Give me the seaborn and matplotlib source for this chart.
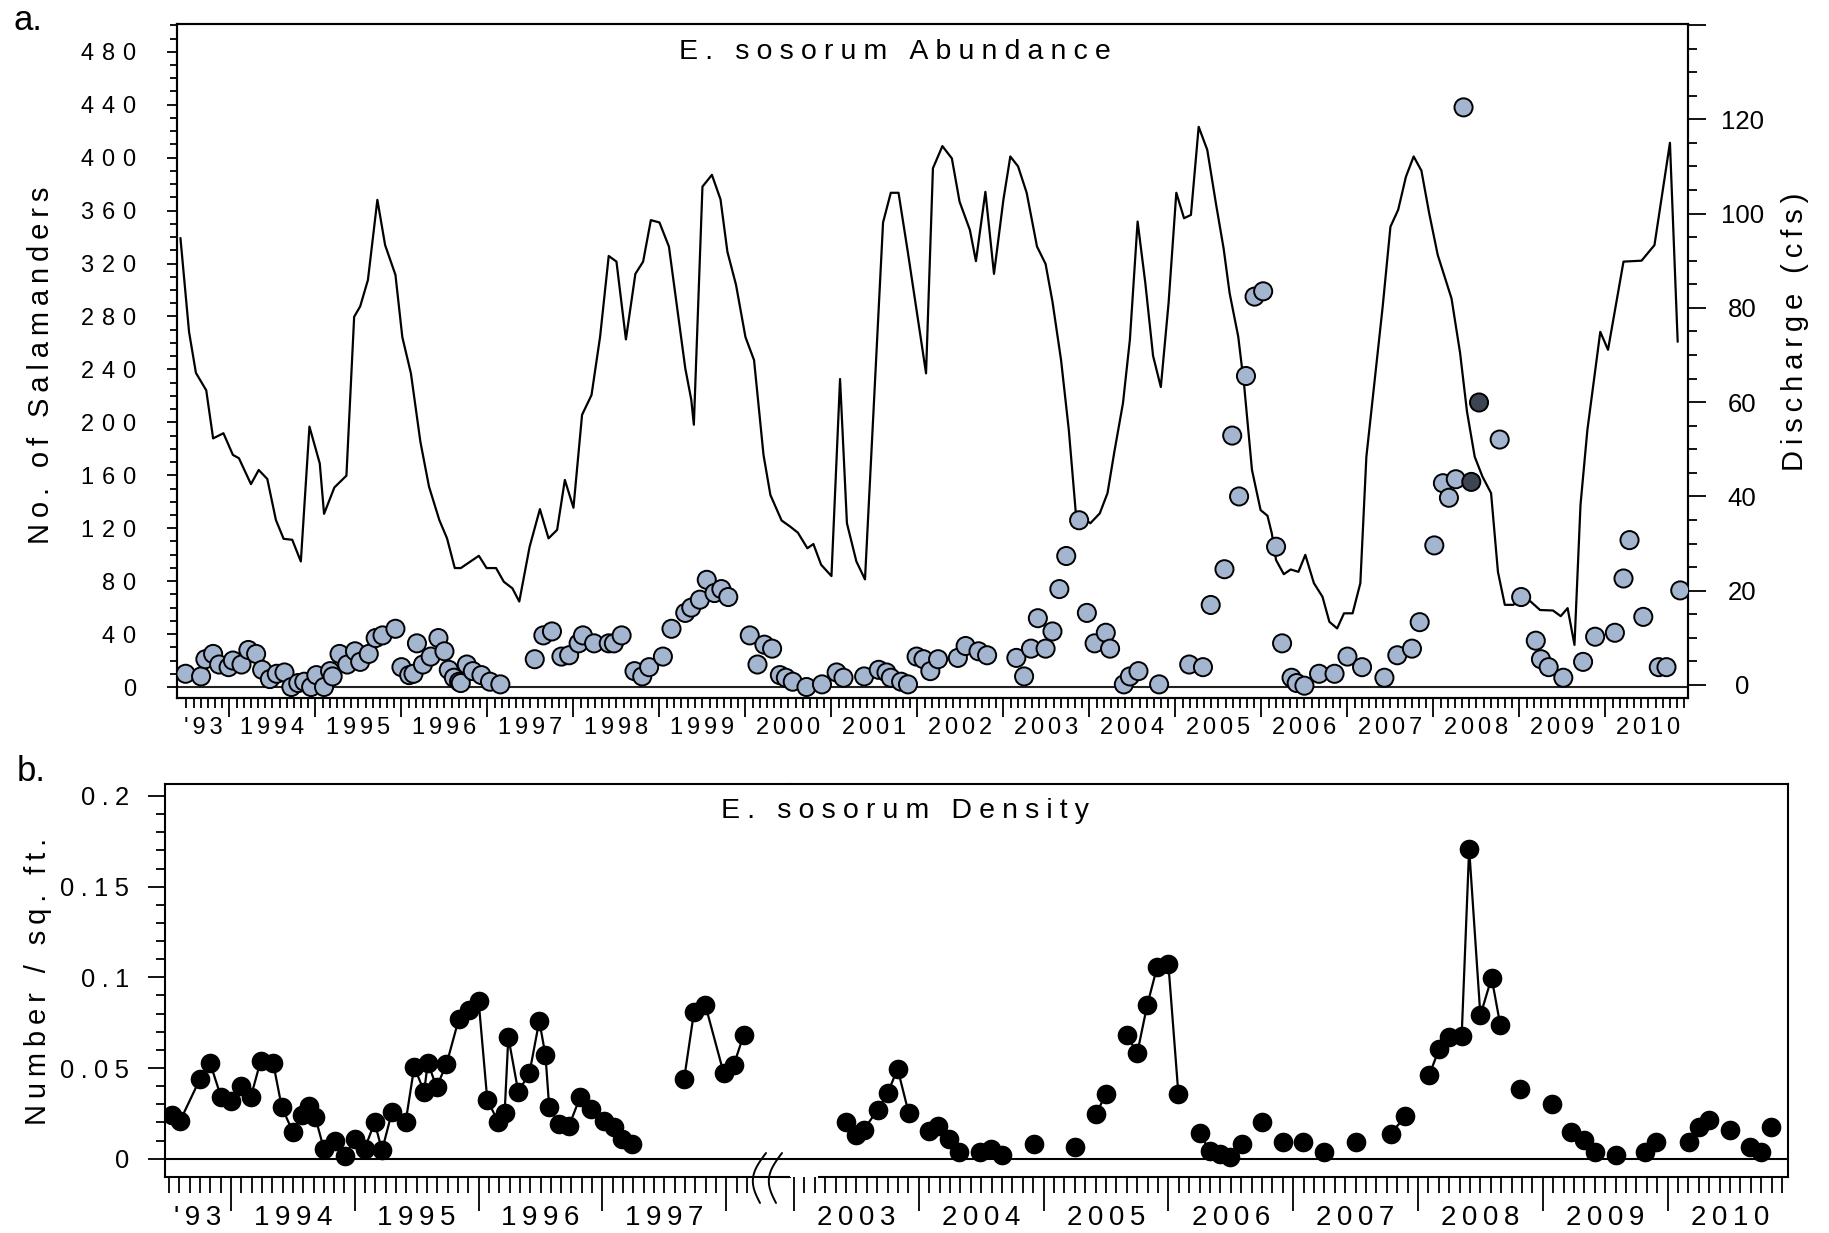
import numpy as np
import pandas as pd
import matplotlib
matplotlib.use("Agg")
import matplotlib.pyplot as plt
from matplotlib.lines import Line2D
from matplotlib.ticker import NullLocator
import seaborn as sns

# ---------------- data ----------------
# Panel a: salamander counts (circles)
abund_year = (
    [1993.49, 1993.67, 1993.72, 1993.81, 1993.88, 1993.99,
     1994.04, 1994.14, 1994.22, 1994.31, 1994.38, 1994.47, 1994.55, 1994.64, 1994.72, 1994.80, 1994.87, 1994.95]
    + [1995.01, 1995.10, 1995.17, 1995.20, 1995.28, 1995.37, 1995.46, 1995.52, 1995.62, 1995.70, 1995.78, 1995.93]
    + [1996.00, 1996.09, 1996.14, 1996.18, 1996.25, 1996.34, 1996.43, 1996.50, 1996.55, 1996.61, 1996.67, 1996.69,
       1996.76, 1996.83, 1996.93]
    + [1997.03, 1997.15, 1997.55, 1997.65, 1997.75, 1997.86, 1997.95]
    + [1998.06, 1998.11, 1998.24, 1998.41, 1998.47, 1998.56, 1998.71, 1998.80, 1998.88]
    + [1999.04, 1999.14, 1999.30, 1999.37, 1999.47, 1999.55, 1999.64, 1999.72, 1999.80]
    + [2000.05, 2000.14, 2000.22, 2000.31, 2000.40, 2000.47, 2000.55, 2000.71, 2000.89]
    + [2001.06, 2001.14, 2001.38, 2001.55, 2001.64, 2001.69, 2001.81, 2001.89, 2001.99]
    + [2002.07, 2002.15, 2002.24, 2002.47, 2002.56, 2002.71, 2002.81]
    + [2003.15, 2003.24, 2003.32, 2003.40, 2003.49, 2003.57, 2003.65, 2003.73, 2003.88, 2003.97]
    + [2004.06, 2004.19, 2004.24, 2004.40, 2004.47, 2004.57, 2004.81]
    + [2005.16, 2005.32, 2005.41, 2005.57, 2005.66, 2005.74, 2005.82, 2005.92]
    + [2006.02, 2006.17, 2006.24, 2006.35, 2006.41, 2006.50, 2006.67, 2006.85]
    + [2007.00, 2007.17, 2007.43, 2007.58, 2007.75, 2007.84]
    + [2008.01, 2008.11, 2008.18, 2008.26, 2008.35, 2008.44, 2008.53, 2008.77]
    + [2009.02, 2009.19, 2009.25, 2009.34, 2009.51, 2009.74, 2009.88]
    + [2010.11, 2010.21, 2010.28, 2010.44, 2010.62, 2010.71, 2010.87]
)
abund_count = (
    [10, 8, 21, 25, 17, 15, 20, 17, 28, 25, 13, 6, 10, 11, 0, 3, 4, 0]
    + [9, 0, 12, 8, 25, 17, 27, 19, 25, 37, 39, 44]
    + [15, 9, 10, 33, 17, 23, 37, 27, 13, 7, 4, 3, 17, 12, 9]
    + [4, 2, 21, 39, 42, 23, 24]
    + [33, 39, 33, 33, 33, 39, 12, 8, 15]
    + [23, 44, 56, 60, 66, 81, 71, 74, 68]
    + [39, 17, 32, 29, 9, 7, 4, 0, 2]
    + [11, 7, 8, 13, 11, 7, 4, 2, 23]
    + [21, 12, 21, 22, 31, 27, 24]
    + [22, 8, 29, 52, 29, 42, 74, 99, 126, 56]
    + [33, 41, 29, 2, 8, 12, 2]
    + [17, 15, 62, 89, 190, 144, 235, 295]
    + [299, 106, 33, 7, 3, 1, 10, 10]
    + [23, 15, 7, 24, 29, 49]
    + [107, 154, 143, 157, 438, 155, 215, 187]
    + [68, 35, 21, 15, 7, 19, 38]
    + [41, 82, 111, 53, 15, 15, 73]
)
dark_years = [2008.44, 2008.53]   # the two dark circles

# Panel a: discharge (line, right axis)
discharge_year = [
    1993.43, 1993.53, 1993.61, 1993.73, 1993.81, 1993.93, 1994.04, 1994.11, 1994.25, 1994.34, 1994.44, 1994.54,
    1994.63, 1994.73, 1994.83, 1994.93, 1995.05, 1995.10, 1995.22, 1995.36, 1995.45, 1995.52, 1995.61, 1995.72,
    1995.81, 1995.93, 1996.01, 1996.11, 1996.22, 1996.32, 1996.44, 1996.53, 1996.62, 1996.69, 1996.90, 1996.99,
    1997.10, 1997.19, 1997.29, 1997.37, 1997.49, 1997.61, 1997.71, 1997.81, 1997.90, 1998.00, 1998.10, 1998.21,
    1998.31, 1998.41, 1998.50, 1998.61, 1998.72, 1998.81, 1998.90, 1999.00, 1999.11, 1999.30, 1999.37, 1999.40,
    1999.50, 1999.61, 1999.71, 1999.79, 1999.89, 2000.00, 2000.10, 2000.21, 2000.29, 2000.42, 2000.52, 2000.61,
    2000.72, 2000.79, 2000.88, 2001.00, 2001.10, 2001.18, 2001.29, 2001.39, 2001.60, 2001.69, 2001.78, 2001.89,
    2002.01, 2002.10, 2002.18, 2002.29, 2002.40, 2002.49, 2002.61, 2002.68, 2002.79, 2002.89, 2003.00, 2003.08,
    2003.17, 2003.27, 2003.39, 2003.49, 2003.57, 2003.67, 2003.76, 2003.84, 2004.01, 2004.12, 2004.21, 2004.29,
    2004.39, 2004.47, 2004.56, 2004.65, 2004.74, 2004.83, 2004.92, 2005.01, 2005.10, 2005.18, 2005.27, 2005.37,
    2005.47, 2005.56, 2005.63, 2005.73, 2005.80, 2005.89, 2005.99, 2006.07, 2006.12, 2006.17, 2006.26, 2006.34,
    2006.43, 2006.51, 2006.61, 2006.71, 2006.79, 2006.88, 2006.96, 2007.06, 2007.15, 2007.22, 2007.41, 2007.50,
    2007.59, 2007.68, 2007.77, 2007.86, 2007.95, 2008.05, 2008.13, 2008.21, 2008.31, 2008.39, 2008.48, 2008.57,
    2008.67, 2008.75, 2008.83, 2008.93, 2009.02, 2009.13, 2009.24, 2009.39, 2009.48, 2009.56, 2009.64, 2009.71,
    2009.79, 2009.94, 2010.03, 2010.21, 2010.42, 2010.57, 2010.75, 2010.84,
]
discharge_cfs = [
    94.8, 74.9, 66.2, 62.5, 52.3, 53.4, 48.8, 48.1, 42.6, 45.6, 43.7, 35.0,
    31.0, 30.8, 26.2, 54.8, 47.0, 36.3, 41.9, 44.4, 78.1, 80.3, 85.9, 102.9,
    93.3, 87.0, 73.8, 66.1, 51.6, 42.1, 35.0, 31.1, 24.8, 24.8, 27.4, 24.8,
    24.8, 21.9, 20.5, 17.7, 29.3, 37.3, 31.1, 32.9, 43.5, 37.6, 57.3, 61.5,
    73.9, 91.0, 89.8, 73.3, 87.2, 89.8, 98.6, 98.1, 93.0, 67.2, 60.5, 55.2,
    105.7, 108.2, 103.0, 91.9, 84.9, 73.8, 68.9, 48.8, 40.3, 34.9, 33.6, 32.3,
    29.0, 29.9, 25.5, 23.1, 64.9, 34.3, 26.2, 22.4, 98.1, 104.4, 104.4, 91.6,
    77.1, 66.1, 109.6, 114.3, 111.7, 102.5, 96.5, 89.9, 104.6, 87.2, 103.0, 112.1,
    110.0, 104.4, 93.0, 89.3, 81.3, 68.9, 54.1, 36.8, 34.3, 36.4, 40.7, 49.5,
    59.8, 73.2, 98.3, 85.2, 69.8, 63.2, 81.0, 104.4, 99.0, 99.7, 118.4, 113.5,
    102.2, 92.6, 83.1, 73.9, 63.3, 45.6, 37.1, 35.9, 32.2, 26.5, 23.5, 24.5,
    24.0, 27.6, 21.6, 18.7, 13.4, 12.0, 15.2, 15.2, 21.6, 48.4, 80.3, 97.2,
    100.8, 107.8, 112.1, 109.1, 100.1, 91.2, 86.6, 82.0, 70.4, 58.0, 48.4, 44.2,
    40.7, 24.0, 17.0, 17.0, 18.7, 17.7, 15.9, 15.8, 14.6, 16.3, 8.5, 38.2,
    54.1, 74.9, 71.1, 89.8, 90.0, 93.3, 115.0, 72.8,
]

# Panel b: density (run = consecutive samples joined by a line)
density_year = [
    1993.52, 1993.59, 1993.75, 1993.83, 1993.92, 1994.00, 1994.08, 1994.16, 1994.24, 1994.34, 1994.41, 1994.50,
    1994.57, 1994.63, 1994.68, 1994.75, 1994.84, 1994.92, 1995.00, 1995.08, 1995.16, 1995.22, 1995.30, 1995.41,
    1995.48, 1995.56, 1995.59, 1995.66, 1995.74, 1995.84, 1995.92, 1996.00, 1996.07, 1996.16, 1996.21, 1996.24,
    1996.32, 1996.41, 1996.49, 1996.54, 1996.57, 1996.65, 1996.73, 1996.82, 1996.91, 1997.01, 1997.09, 1997.16,
    1997.24,
    1997.66, 1997.74, 1997.83, 1997.98, 1998.06, 1998.14,
    2003.42, 2003.50, 2003.56, 2003.67, 2003.75, 2003.83, 2003.92,
    2004.08, 2004.15, 2004.24, 2004.32,
    2004.49, 2004.58, 2004.67,
    2004.92, 2005.25,
    2005.42, 2005.50,
    2005.67, 2005.75, 2005.83, 2005.91, 2006.00, 2006.08,
    2006.25, 2006.33, 2006.41, 2006.49, 2006.59,
    2006.75, 2006.92, 2007.08, 2007.25, 2007.50,
    2007.78, 2007.90,
    2008.09, 2008.17, 2008.25, 2008.35, 2008.41, 2008.50, 2008.59, 2008.66,
    2008.82, 2009.07,
    2009.23, 2009.33, 2009.42,
    2009.59,
    2009.82, 2009.91,
    2010.17, 2010.25, 2010.33,
    2010.50,
    2010.66, 2010.75,
    2010.83,
]
density_value = [
    0.024, 0.021, 0.044, 0.053, 0.034, 0.032, 0.040, 0.034, 0.054, 0.053, 0.0285, 0.0147,
    0.024, 0.029, 0.023, 0.0055, 0.010, 0.0013, 0.011, 0.0055, 0.020, 0.0046, 0.0257, 0.020,
    0.0506, 0.037, 0.053, 0.0395, 0.052, 0.077, 0.082, 0.087, 0.0325, 0.020, 0.025, 0.067,
    0.037, 0.047, 0.076, 0.057, 0.0285, 0.019, 0.018, 0.034, 0.0276, 0.021, 0.0175, 0.011,
    0.0083,
    0.044, 0.081, 0.085, 0.047, 0.0515, 0.068,
    0.020, 0.013, 0.016, 0.027, 0.036, 0.0496, 0.025,
    0.0153, 0.018, 0.011, 0.0037,
    0.0037, 0.0055, 0.0022,
    0.0079, 0.0064,
    0.0244, 0.0358,
    0.068, 0.058, 0.0846, 0.1057, 0.1072, 0.0358,
    0.014, 0.0045, 0.0028, 0.0009, 0.0079,
    0.020, 0.0092, 0.0092, 0.0037, 0.0092,
    0.0138, 0.0233,
    0.046, 0.0607, 0.0671, 0.0675, 0.171, 0.079, 0.0998, 0.0735,
    0.0386, 0.0303,
    0.0147, 0.0101, 0.0037,
    0.0022,
    0.0037, 0.0092,
    0.0092, 0.0175, 0.0215,
    0.016,
    0.0064, 0.0037,
    0.0175,
]
density_run = (
    [0] * 49 + [1] * 6 + [2] * 7 + [3] * 4 + [4] * 3 + [5, 6] + [7] * 2 + [8] * 6 + [9] * 5
    + [10, 11, 12, 13, 14] + [15] * 2 + [16] * 8 + [17, 18] + [19] * 3 + [20] + [21] * 2
    + [22] * 3 + [23] + [24] * 2 + [25]
)

top_year_ticks = list(range(1994, 2011))
top_year_labels = ["'93"] + [str(y) for y in range(1994, 2011)]
bl_year_ticks = list(range(1994, 1999))
bl_year_labels = ["'93", "1994", "1995", "1996", "1997"]
br_year_ticks = list(range(2003, 2011))
br_year_labels = [str(y) for y in range(2003, 2011)]

count_ticks = list(range(0, 481, 40))
cfs_ticks = list(range(0, 141, 20))
dens_ticks = [0, 0.05, 0.1, 0.15, 0.2]
dens_labels = ["0", "0.05", "0.1", "0.15", "0.2"]

# ---------------- style ----------------
sns.set_theme(style="ticks")
plt.rcParams["font.family"] = ["Liberation Sans", "DejaVu Sans"]
plt.rcParams.update({
    "axes.linewidth": 1.5, "axes.edgecolor": "black",
    "xtick.color": "black", "ytick.color": "black",
    "text.color": "black", "axes.labelcolor": "black",
    "xtick.direction": "out", "ytick.direction": "out",
})

# letter-spacing helpers (unicode spaces of different widths)
HAIR6 = "\u2006"    # 1/6 em
THIN = "\u2009"     # 1/5 em
FOUR = "\u2005"     # 1/4 em
THREE = "\u2004"    # 1/3 em


def sp(s, gap=THIN):
    return gap.join(s)


W, H = 1829, 1233
fig = plt.figure(figsize=(W / 100, H / 100), dpi=100)


def box(l, t, r, b):
    return [l / W, 1 - b / H, (r - l) / W, (b - t) / H]


LIGHT = "#a4b5cf"
DARK = "#3d4452"

# ---------------- panel a ----------------
ab = pd.DataFrame({"year": abund_year, "count": abund_count})
ab["group"] = np.where(ab["year"].isin(dark_years), "dark", "light")
dis = pd.DataFrame({"year": discharge_year, "cfs": discharge_cfs})

ax = fig.add_axes(box(177, 24, 1688, 698))
ax2 = ax.twinx()
ax.set_zorder(ax2.get_zorder() + 1)
ax.patch.set_visible(False)

sns.lineplot(data=dis, x="year", y="cfs", ax=ax2, color="black", lw=1.6,
             estimator=None, sort=False)
ax.axhline(0, color="#222222", lw=1.5, zorder=1)
sns.scatterplot(data=ab, x="year", y="count", hue="group",
                palette={"light": LIGHT, "dark": DARK}, s=170,
                edgecolor="black", linewidth=1.4, legend=False, ax=ax, zorder=3)

x0t, x1t = 1993.39, 2010.96
ax.set_xlim(x0t, x1t)
ax.set_ylim(-8.3, 501)
ax2.set_ylim(-2.76, 140.2)
ax.set_xlabel("")
ax2.set_xlabel("")

ax.set_xticks(top_year_ticks)
ax.set_xticklabels([])
months_top = [m for m in np.arange(1993.5, 2010.93, 1 / 12) if abs(m - round(m)) > 0.01]
ax.set_xticks(months_top, minor=True)
ax.tick_params(axis="x", which="major", length=13.7, width=1.3, labelbottom=False)
ax.tick_params(axis="x", which="minor", length=7.2, width=1.3)

sec = ax.secondary_xaxis("bottom")
mids = [(x0t + 1994) / 2] + [y + 0.5 for y in range(1994, 2011)]
sec.set_xticks(mids, [sp(s, HAIR6) for s in top_year_labels])
sec.xaxis.set_minor_locator(NullLocator())
sec.tick_params(length=0, pad=13.5, labelsize=17)
sec.spines["bottom"].set_visible(False)

ax.set_yticks(count_ticks, [sp(str(v), THREE) for v in count_ticks])
ax.set_yticks([v for v in range(0, 501, 10) if v % 40], minor=True)
ax.tick_params(axis="y", which="major", length=7.5, width=1.3, pad=22, labelsize=17)
ax.tick_params(axis="y", which="minor", length=5, width=1.3)

ax2.set_yticks(cfs_ticks, [str(v) if v < 140 else "" for v in cfs_ticks])
ax2.set_yticks([v for v in range(0, 141, 5) if v % 20], minor=True)
ax2.tick_params(axis="y", which="major", length=13, width=1.3, pad=26, labelsize=18.5)
ax2.tick_params(axis="y", which="minor", length=6.5, width=1.3)
for t in ax2.get_yticklabels():
    t.set_horizontalalignment("center")

ax.set_ylabel(sp("No. of Salamanders"), fontsize=21)
ax.yaxis.set_label_coords((41 - 177) / 1511, 1 - (365 - 24) / 674)
ax.yaxis.label.set_va("center")
ax2.set_ylabel(sp("Discharge (cfs)"), fontsize=21)
ax2.yaxis.set_label_coords((1795 - 177) / 1511, 1 - (332 - 24) / 674)
ax2.yaxis.label.set_va("center")

ax.text((895 - 177) / 1511, 1 - (52 - 24) / 674, sp("E. sosorum Abundance", FOUR),
        transform=ax.transAxes, ha="center", va="center", fontsize=20.5)
for s in ["left", "right", "top", "bottom"]:
    ax.spines[s].set_visible(True)
    ax.spines[s].set_linewidth(1.5)
ax2.spines["right"].set_linewidth(1.5)

# ---------------- panel b (broken x axis) ----------------
den = pd.DataFrame({"year": density_year, "density": density_value, "run": density_run})
dl = den[den["year"] < 2000]
dr = den[den["year"] > 2000]

bl = fig.add_axes(box(165, 784, 790, 1177))
br = fig.add_axes(box(790, 784, 1788, 1177), sharey=bl)

for a, d in ((bl, dl), (br, dr)):
    a.axhline(0, color="black", lw=1.5, zorder=1)
    sns.lineplot(data=d, x="year", y="density", units="run", estimator=None,
                 color="black", lw=1.6, ax=a, zorder=2)
    sns.scatterplot(data=d, x="year", y="density", color="black", s=200,
                    edgecolor="black", linewidth=0, ax=a, zorder=3)
    a.set_xlabel("")
    a.set_ylabel("")

bl0, bl1 = 1993.467, 1998.515
br0, br1 = 2002.968, 2010.965
bl.set_xlim(bl0, bl1)
br.set_xlim(br0, br1)
bl.set_ylim(-0.0101, 0.2066)

bl.spines["right"].set_visible(False)
br.spines["left"].set_visible(False)
br.spines["bottom"].set_bounds(2003.2, br1)
for a in (bl, br):
    for s in a.spines.values():
        s.set_linewidth(1.5)

bl.set_xticks(bl_year_ticks)
bl.set_xticklabels([])
bl.set_xticks([m for m in np.arange(1993.5, 1998.2, 1 / 12) if abs(m - round(m)) > 0.01], minor=True)
br.set_xticks(br_year_ticks)
br.set_xticklabels([])
br.set_xticks([m for m in np.arange(2003 + 1 / 12, 2010.93, 1 / 12) if abs(m - round(m)) > 0.01], minor=True)
for a in (bl, br):
    a.tick_params(axis="x", which="major", length=24.5, width=1.3, labelbottom=False)
    a.tick_params(axis="x", which="minor", length=11.5, width=1.3)

secl = bl.secondary_xaxis("bottom")
secl.set_xticks([(bl0 + 1994) / 2] + [y + 0.5 for y in range(1994, 1998)],
                [sp(s) for s in bl_year_labels])
secr = br.secondary_xaxis("bottom")
secr.set_xticks([y + 0.5 for y in br_year_ticks], [sp(s) for s in br_year_labels])
for sx in (secl, secr):
    sx.xaxis.set_minor_locator(NullLocator())
    sx.tick_params(length=0, pad=20, labelsize=20)
    sx.spines["bottom"].set_visible(False)

bl.set_yticks(dens_ticks, [sp(s, FOUR) for s in dens_labels])
bl.set_yticks([v / 100 for v in range(1, 20) if v % 5], minor=True)
bl.tick_params(axis="y", which="major", length=12, width=1.3, pad=14, labelsize=18.4)
bl.tick_params(axis="y", which="minor", length=6.5, width=1.3)
br.tick_params(axis="y", which="both", left=False, labelleft=False)

bl.set_ylabel(sp("Number / sq. ft."), fontsize=21)
bl.yaxis.set_label_coords((37.5 - 165) / 625, 1 - (981 - 784) / 393)
bl.yaxis.label.set_va("center")

fig.text(905 / W, 1 - 811 / H, sp("E. sosorum Density", FOUR), ha="center", va="center", fontsize=20.5)

# break marks on the x axis of panel b
sgrid = np.linspace(0, 1, 40)
for dx in (0, 16):
    xs = 766 + dx - 6 * sgrid - 10 * np.sin(np.pi * sgrid)
    ys = 1153 + 50 * sgrid
    fig.add_artist(Line2D(xs / W, 1 - ys / H, transform=fig.transFigure, color="black", lw=1.4))

# panel letters
fig.text(28 / W, 1 - 30 / H, "a.", ha="center", va="baseline", fontsize=25)
fig.text(31 / W, 1 - 781 / H, "b.", ha="center", va="baseline", fontsize=25)

fig.savefig("out.png", dpi=100)
